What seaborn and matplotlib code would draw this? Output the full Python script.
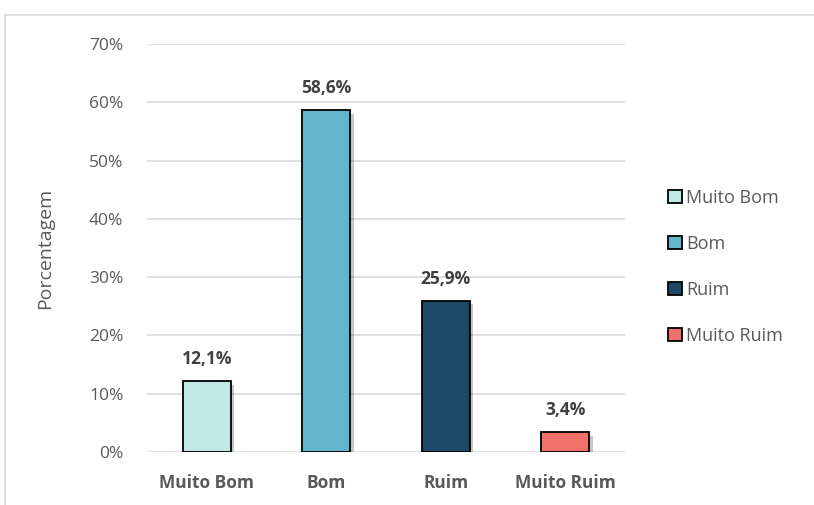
import matplotlib.pyplot as plt
import matplotlib.patheffects as pe
from matplotlib.patches import Rectangle, Patch
import numpy as np
import pandas as pd
import seaborn as sns

# Dados
categorias = ['Muito Bom', 'Bom', 'Ruim', 'Muito Ruim']
porcentagens = [12.1, 58.6, 25.9, 3.4]
rotulos = ['12,1%', '58,6%', '25,9%', '3,4%']
cores = ['#C2E8E6', '#62B5CC', '#1C4966', '#F0706A']
yticks = [0, 10, 20, 30, 40, 50, 60, 70]

df = pd.DataFrame({'categoria': categorias, 'valor': porcentagens})

sns.set_style('white')
plt.rcParams['font.family'] = ['Open Sans', 'DejaVu Sans']

fig = plt.figure(figsize=(8.14, 5.05), dpi=100)
ax = fig.add_axes([0.1806, 0.105, 0.5872, 0.808])

sns.barplot(data=df, x='categoria', y='valor', hue='categoria',
            palette=cores, saturation=1, width=0.4, legend=False, ax=ax,
            edgecolor='black', linewidth=1.3)

sombra = [pe.SimplePatchShadow(offset=(2.5, -2.5), shadow_rgbFace='#000000', alpha=0.22),
          pe.Normal()]
for patch in ax.patches:
    patch.set_path_effects(sombra)
    patch.set_zorder(3)

for i, (v, t) in enumerate(zip(porcentagens, rotulos)):
    ax.text(i, v + 2.3, t, ha='center', va='bottom', fontsize=12.5,
            fontweight='bold', color='#404040')

ax.set_ylim(0, 70)
ax.set_xlim(-0.5, 3.5)
ax.set_yticks(yticks)
ax.set_yticklabels([f'{t}%' for t in yticks], fontsize=12.5, color='#595959')
ax.tick_params(axis='y', length=0, pad=17)
ax.tick_params(axis='x', length=0, pad=16)
for lbl in ax.get_xticklabels():
    lbl.set_fontsize(12.5)
    lbl.set_fontweight('bold')
    lbl.set_color('#595959')
ax.set_xlabel('')
ax.set_ylabel('Porcentagem', fontsize=14, color='#595959', labelpad=25)
ax.yaxis.grid(True, color='#D9D9D9', linewidth=1.2)
ax.set_axisbelow(True)
for s in ax.spines.values():
    s.set_visible(False)

handles = [Patch(facecolor=c, edgecolor='black', linewidth=1.3) for c in cores]
fig.legend(handles, categorias, loc='center left', bbox_to_anchor=(0.801, 0.471),
           frameon=False, fontsize=13, labelcolor='#595959', handlelength=0.75,
           handleheight=0.75, handletextpad=0.25, labelspacing=1.55)

fig.add_artist(Rectangle((5 / 814, -0.1), 1.2, 1 - 15 / 505 + 0.1,
                         transform=fig.transFigure, fill=False,
                         edgecolor='#D9D9D9', linewidth=1.2))

fig.savefig('out.png', dpi=100)
